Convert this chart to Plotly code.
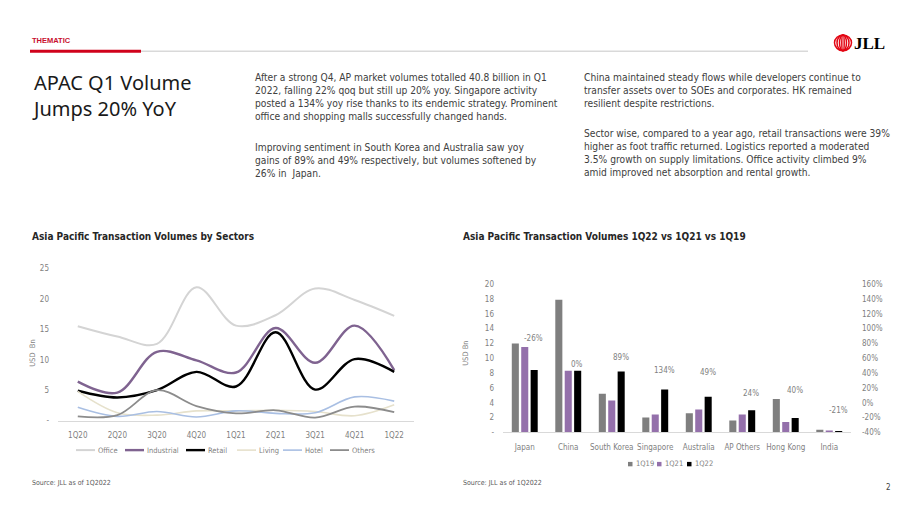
import plotly.graph_objects as go

# ---------------- data ----------------
quarters = ["1Q20", "2Q20", "3Q20", "4Q20", "1Q21", "2Q21", "3Q21", "4Q21", "1Q22"]
office = [15.5, 13.8, 12.6, 21.9, 15.6, 17.3, 21.7, 19.8, 17.2]
industrial = [6.4, 4.6, 11.3, 9.9, 7.9, 15.2, 9.5, 15.6, 8.3]
retail = [4.9, 3.8, 5.0, 8.0, 5.6, 14.5, 5.1, 10.1, 8.0]
living = [4.8, 1.3, 0.9, 1.6, 1.6, 1.7, 1.5, 0.8, 2.6]
hotel = [2.2, 0.7, 1.5, 0.6, 1.6, 1.2, 1.3, 3.9, 3.2]
others = [0.7, 0.9, 5.0, 2.4, 1.2, 1.7, 0.5, 2.3, 1.4]
sector_names = ["Office", "Industrial", "Retail", "Living", "Hotel", "Others"]

markets = ["Japan", "China", "South Korea", "Singapore", "Australia", "AP Others", "Hong Kong", "India"]
period_names = ["1Q19", "1Q21", "1Q22"]
v_1q19 = [12.0, 17.9, 5.2, 2.0, 2.6, 1.6, 4.5, 0.35]
v_1q21 = [11.5, 8.3, 4.3, 2.4, 3.1, 2.4, 1.4, 0.27]
v_1q22 = [8.4, 8.3, 8.2, 5.8, 4.8, 3.0, 1.95, 0.2]
yoy_labels = ["-26%", "0%", "89%", "134%", "49%", "24%", "40%", "-21%"]
yoy_label_height = [12.7, 9.1, 10.1, 8.3, 8.1, 5.2, 5.7, 2.9]

left_ticks = [0, 5, 10, 15, 20, 25]
right_ticks = [0, 2, 4, 6, 8, 10, 12, 14, 16, 18, 20]
pct_ticks = [-0.4, -0.2, 0, 0.2, 0.4, 0.6, 0.8, 1.0, 1.2, 1.4, 1.6]

W, H = 920, 518
def py(p):  # pixel y -> paper y
    return 1 - p / H
def px(p):
    return p / W

NARROW = "Liberation Sans Narrow, DejaVu Sans Condensed, sans-serif"
TICK = dict(family=NARROW, size=8, color="#7f7f7f")

fig = go.Figure()

sector_values = [office, industrial, retail, living, hotel, others]
sector_colors = ["#d4d4d4", "#7f6390", "#000000", "#e6e1cc", "#a9bfe3", "#8c8c8c"]
sector_widths = [2.0, 2.4, 2.4, 1.6, 1.6, 1.8]
for name, vals, col, w in zip(sector_names, sector_values, sector_colors, sector_widths):
    fig.add_trace(go.Scatter(x=quarters, y=vals, name=name, mode="lines",
                             line=dict(color=col, width=w, shape="spline", smoothing=1.0),
                             xaxis="x", yaxis="y", showlegend=False))

period_values = [v_1q19, v_1q21, v_1q22]
period_colors = ["#7f7f7f", "#9470ab", "#000000"]
for name, vals, col in zip(period_names, period_values, period_colors):
    fig.add_trace(go.Bar(x=markets, y=vals, name=name, marker=dict(color=col, line=dict(width=0)),
                         xaxis="x2", yaxis="y2", showlegend=False))

# invisible trace to activate secondary axis
fig.add_trace(go.Scatter(x=markets, y=[None] * len(markets), xaxis="x2", yaxis="y3",
                         showlegend=False, hoverinfo="skip"))

for m, lab, hgt in zip(markets, yoy_labels, yoy_label_height):
    fig.add_annotation(x=m, y=hgt, xref="x2", yref="y2", text=lab, showarrow=False,
                       xshift=9, font=dict(family=NARROW, size=8, color="#7f7f7f"))

fig.update_layout(
    width=W, height=H, margin=dict(l=0, r=0, t=0, b=0),
    paper_bgcolor="white", plot_bgcolor="white",
    barmode="group", bargap=0.35, bargroupgap=0.25,
    showlegend=False,
    xaxis=dict(domain=[px(58), px(414)], range=[-0.5, 8.5], showgrid=False, showline=True,
               linecolor="#d9d9d9", linewidth=1, ticks="", tickfont=TICK, anchor="y",
               ticklabelstandoff=7),
    yaxis=dict(domain=[py(424), py(269)], range=[0, 25], showgrid=False, zeroline=False,
               tickvals=left_ticks, ticktext=["-" if t == 0 else str(t) for t in left_ticks],
               tickfont=TICK, ticks="", anchor="x", ticklabelstandoff=8),
    xaxis2=dict(domain=[px(503), px(851)], range=[-0.5, 7.5], showgrid=False, showline=True,
                linecolor="#d9d9d9", linewidth=1, ticks="", tickfont=TICK, anchor="y2",
                ticklabelstandoff=7),
    yaxis2=dict(domain=[py(436), py(285)], range=[0, 20], showgrid=False, zeroline=False,
                tickvals=right_ticks, ticktext=["-" if t == 0 else str(t) for t in right_ticks],
                tickfont=TICK, ticks="", anchor="x2", ticklabelstandoff=8),
    yaxis3=dict(overlaying="y2", side="right", range=[-0.4, 1.6],
                tickvals=pct_ticks, ticktext=[f"{round(t * 100)}%" for t in pct_ticks],
                showgrid=False, zeroline=False, tickfont=TICK, anchor="x2", ticklabelstandoff=10),
)

# ---------------- legends (drawn as page decorations) ----------------
leg_line_x = [76, 125, 186, 237, 283, 330]
for name, col, w, x0 in zip(sector_names, sector_colors, sector_widths, leg_line_x):
    fig.add_shape(type="line", xref="paper", yref="paper", x0=px(x0), x1=px(x0 + 19),
                  y0=py(454), y1=py(454), line=dict(color=col, width=w))
    fig.add_annotation(x=px(x0 + 20), y=py(454), xref="paper", yref="paper", xanchor="left",
                       yanchor="middle", text=name, showarrow=False,
                       font=dict(family=NARROW, size=7.5, color="#7f7f7f"))
leg_sq_x = [628, 657, 687]
for name, col, x0 in zip(period_names, period_colors, leg_sq_x):
    fig.add_shape(type="rect", xref="paper", yref="paper", x0=px(x0), x1=px(x0 + 4.5),
                  y0=py(470.5), y1=py(466), line=dict(width=0), fillcolor=col)
    fig.add_annotation(x=px(x0 + 6), y=py(468), xref="paper", yref="paper", xanchor="left",
                       yanchor="middle", text=name, showarrow=False,
                       font=dict(family=NARROW, size=7.5, color="#7f7f7f"))

# ---------------- page decorations ----------------
fig.add_shape(type="line", xref="paper", yref="paper", x0=px(140), x1=px(808), y0=py(48), y1=py(48),
              line=dict(color="#d9d9d9", width=1.5))
fig.add_shape(type="line", xref="paper", yref="paper", x0=px(30), x1=px(141), y0=py(48), y1=py(48),
              line=dict(color="#d0021b", width=3))

# JLL logo
for hw in [8.5, 6.0, 3.5, 1.2]:
    fig.add_shape(type="circle", xref="paper", yref="paper",
                  x0=px(843 - hw), x1=px(843 + hw), y0=py(39.5 + 8), y1=py(39.5 - 8),
                  line=dict(color="#e30613", width=1.5))
fig.add_annotation(x=px(852), y=py(40), xref="paper", yref="paper", xanchor="left", yanchor="middle",
                   text="<b>JLL</b>", showarrow=False,
                   font=dict(family="Liberation Serif, serif", size=17, color="#000000"))

def txt(x, y, s, size, color="#404040", family=NARROW, xanchor="left", yanchor="middle", angle=0):
    fig.add_annotation(x=px(x), y=py(y), xref="paper", yref="paper", xanchor=xanchor, yanchor=yanchor,
                       text=s, showarrow=False, textangle=angle, align="left",
                       font=dict(family=family, size=size, color=color))

txt(30, 37, "<b>THEMATIC</b>", 7.5, color="#c8102e", family="Liberation Sans Narrow, Liberation Sans, sans-serif")
txt(30, 93, "APAC Q1 Volume<br>Jumps 20% YoY", 20, color="#1a1a1a", family="Noto Sans, sans-serif")

block1 = ["After a strong Q4, AP market volumes totalled 40.8 billion in Q1",
          "2022, falling 22% qoq but still up 20% yoy. Singapore activity",
          "posted a 134% yoy rise thanks to its endemic strategy. Prominent",
          "office and shopping malls successfully changed hands."]
block1b = ["Improving sentiment in South Korea and Australia saw yoy",
           "gains of 89% and 49% respectively, but volumes softened by",
           "26% in  Japan."]
block2 = ["China maintained steady flows while developers continue to",
          "transfer assets over to SOEs and corporates. HK remained",
          "resilient despite restrictions."]
block2b = ["Sector wise, compared to a year ago, retail transactions were 39%",
           "higher as foot traffic returned. Logistics reported a moderated",
           "3.5% growth on supply limitations. Office activity climbed 9%",
           "amid improved net absorption and rental growth."]
BS = 10.2
for i, s in enumerate(block1):
    txt(253, 75 + 13.3 * i, s, BS)
for i, s in enumerate(block1b):
    txt(253, 146 + 13.3 * i, s, BS)
for i, s in enumerate(block2):
    txt(582, 75 + 13.3 * i, s, BS)
for i, s in enumerate(block2b):
    txt(582, 132 + 13.3 * i, s, BS)

txt(30, 237, "<b>Asia Pacific Transaction Volumes by Sectors</b>", 10, color="#262626")
txt(461, 237, "<b>Asia Pacific Transaction Volumes 1Q22 vs 1Q21 vs 1Q19</b>", 10, color="#262626")
txt(33, 355, "USD  Bn", 7.5, color="#7f7f7f", xanchor="center", angle=-90)
txt(466, 355, "USD Bn", 7.5, color="#7f7f7f", xanchor="center", angle=-90)
txt(30, 487, "Source: JLL as of 1Q2022", 7, color="#595959")
txt(461, 487, "Source: JLL as of 1Q2022", 7, color="#595959")
txt(888, 492, "2", 8, color="#404040", xanchor="center")

fig.write_html("out.html", config={"displayModeBar": False},
               post_script="document.body.style.margin='0px';document.body.style.padding='0px';")
